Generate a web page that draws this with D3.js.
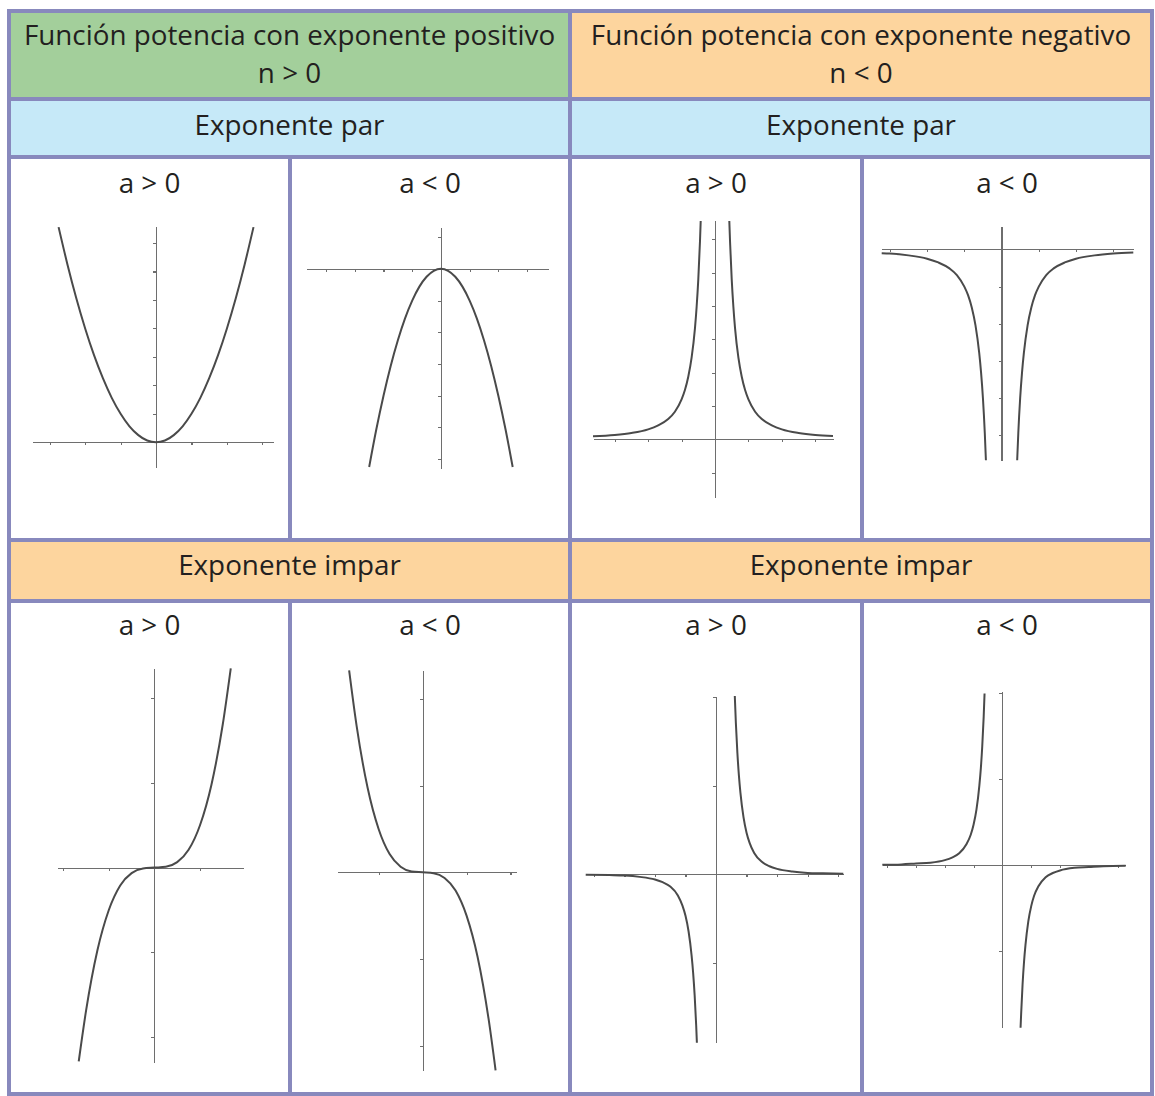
<!DOCTYPE html>
<html lang="es">
<head>
<meta charset="UTF-8" />
<title>Función potencia</title>
<script src="https://d3js.org/d3.v7.min.js"></script>
<style>
  body { margin: 0; background: #fff; }
  svg { display: block; }
  .lbl { font-family: "Open Sans", Lato, sans-serif; fill: #231f20; text-anchor: middle; }
  .ax path, .ax line { stroke: #6e6e6e; stroke-width: 1.1; shape-rendering: crispEdges; }
  .curve { fill: none; stroke: #4a4a4a; stroke-width: 2; }
</style>
</head>
<body>
<svg width="1155" height="1096"></svg>
<script>
// headings
const titles = ["Función potencia con exponente positivo", "Función potencia con exponente negativo"];
const titleConds = ["n > 0", "n < 0"];
const rowNames = ["Exponente par", "Exponente impar"];
const signLabels = ["a > 0", "a < 0"];

// axis domains (units) and tick values per panel
const xDomains = [[-3.5, 3.3], [-4.7, 3.73], [-3.65, 3.53], [-3.22, 3.54],
                  [-2.13, 1.95], [-1.93, 2.14], [-4.27, 4.17], [-4.17, 4.28]];
const yDomains = [[-0.87, 7.6], [-6.28, 1.32], [-1.75, 6.56], [-5.68, 0.63],
                  [-4.6, 4.7], [-4.58, 4.67], [-3.81, 4.03], [-3.78, 4.04]];
const xTicks = [[-3, -2, -1, 1, 2, 3], [-4, -3, -2, -1, 1, 2, 3], [-3, -2, -1, 1, 2, 3], [-3, -2, -1, 1, 2, 3],
                [-2, -1, 1], [-1, 1, 2], [-4, -3, -2, -1, 1, 2, 3, 4], [-4, -3, -2, -1, 1, 2, 3, 4]];
const yTicks = [[1, 2, 3, 4, 5, 6, 7], [1, -1, -2, -3, -4, -5, -6], [-1, 1, 2, 3, 4, 5, 6], [-1, -2, -3, -4, -5],
                [-4, -2, 2, 4], [-4, -2, 2, 4], [-2, 2, 4], [-2, 2, 4]];

// curves
const p1X = [-2.75, -2.5, -2.25, -2, -1.75, -1.5, -1.25, -1, -0.75, -0.5, -0.25, 0, 0.25, 0.5, 0.75, 1, 1.25, 1.5, 1.75, 2, 2.25, 2.5, 2.75];
const p1Y = [7.56, 6.25, 5.06, 4, 3.06, 2.25, 1.56, 1, 0.56, 0.25, 0.06, 0, 0.06, 0.25, 0.56, 1, 1.56, 2.25, 3.06, 4, 5.06, 6.25, 7.56];
const p2X = [-2.5, -2.25, -2, -1.75, -1.5, -1.25, -1, -0.75, -0.5, -0.25, 0, 0.25, 0.5, 0.75, 1, 1.25, 1.5, 1.75, 2, 2.25, 2.5];
const p2Y = [-6.25, -5.06, -4, -3.06, -2.25, -1.56, -1, -0.56, -0.25, -0.06, 0, -0.06, -0.25, -0.56, -1, -1.56, -2.25, -3.06, -4, -5.06, -6.25];
const p3LeftX = [-3.65, -3, -2.5, -2, -1.7, -1.4, -1.2, -1, -0.9, -0.8, -0.7, -0.6, -0.55, -0.5, -0.45, -0.428];
const p3LeftY = [0.09, 0.13, 0.19, 0.3, 0.42, 0.61, 0.83, 1.2, 1.48, 1.88, 2.45, 3.33, 3.97, 4.8, 5.93, 6.55];
const p3RightX = [0.428, 0.45, 0.5, 0.55, 0.6, 0.7, 0.8, 0.9, 1, 1.2, 1.4, 1.7, 2, 2.5, 3, 3.53];
const p3RightY = [6.55, 5.93, 4.8, 3.97, 3.33, 2.45, 1.88, 1.48, 1.2, 0.83, 0.61, 0.42, 0.3, 0.19, 0.13, 0.1];
const p4LeftX = [-3.22, -3, -2.5, -2, -1.7, -1.4, -1.2, -1, -0.9, -0.8, -0.7, -0.6, -0.55, -0.5, -0.45, -0.42];
const p4LeftY = [-0.1, -0.11, -0.16, -0.25, -0.35, -0.51, -0.69, -1, -1.23, -1.56, -2.04, -2.78, -3.31, -4, -4.94, -5.67];
const p4RightX = [0.42, 0.45, 0.5, 0.55, 0.6, 0.7, 0.8, 0.9, 1, 1.2, 1.4, 1.7, 2, 2.5, 3, 3.54];
const p4RightY = [-5.67, -4.94, -4, -3.31, -2.78, -2.04, -1.56, -1.23, -1, -0.69, -0.51, -0.35, -0.25, -0.16, -0.11, -0.08];
const p5X = [-1.66, -1.5, -1.25, -1, -0.75, -0.5, -0.25, 0, 0.25, 0.5, 0.75, 1, 1.25, 1.5, 1.675];
const p5Y = [-4.57, -3.38, -1.95, -1, -0.42, -0.13, -0.02, 0, 0.02, 0.13, 0.42, 1, 1.95, 3.38, 4.7];
const p6X = [-1.67, -1.5, -1.25, -1, -0.75, -0.5, -0.25, 0, 0.25, 0.5, 0.75, 1, 1.25, 1.5, 1.66];
const p6Y = [4.66, 3.38, 1.95, 1, 0.42, 0.13, 0.02, 0, -0.02, -0.13, -0.42, -1, -1.95, -3.38, -4.57];
const p7LeftX = [-4.27, -3.5, -3, -2.5, -2, -1.75, -1.5, -1.25, -1.1, -1, -0.9, -0.8, -0.75, -0.7, -0.65, -0.627];
const p7LeftY = [-0.01, -0.02, -0.03, -0.06, -0.12, -0.18, -0.28, -0.48, -0.71, -0.94, -1.29, -1.84, -2.23, -2.74, -3.42, -3.81];
const p7RightX = [0.615, 0.65, 0.7, 0.75, 0.8, 0.9, 1, 1.1, 1.25, 1.5, 1.75, 2, 2.5, 3, 3.5, 4.17];
const p7RightY = [4.03, 3.42, 2.74, 2.23, 1.84, 1.29, 0.94, 0.71, 0.48, 0.28, 0.18, 0.12, 0.06, 0.03, 0.02, 0.01];
const p8LeftX = [-4.17, -3.5, -3, -2.5, -2, -1.75, -1.5, -1.25, -1.1, -1, -0.9, -0.8, -0.75, -0.7, -0.65, -0.62];
const p8LeftY = [0.01, 0.02, 0.04, 0.06, 0.12, 0.18, 0.28, 0.49, 0.71, 0.95, 1.3, 1.86, 2.25, 2.77, 3.46, 4.0];
const p8RightX = [0.63, 0.65, 0.7, 0.75, 0.8, 0.9, 1, 1.1, 1.25, 1.5, 1.75, 2, 2.5, 3, 3.5, 4.28];
const p8RightY = [-3.78, -3.46, -2.77, -2.25, -1.86, -1.3, -0.95, -0.71, -0.49, -0.28, -0.18, -0.12, -0.06, -0.04, -0.02, -0.01];

const zip = (xs, ys) => xs.map((x, i) => [x, ys[i]]);
const curves = [
  [zip(p1X, p1Y)],
  [zip(p2X, p2Y)],
  [zip(p3LeftX, p3LeftY), zip(p3RightX, p3RightY)],
  [zip(p4LeftX, p4LeftY), zip(p4RightX, p4RightY)],
  [zip(p5X, p5Y)],
  [zip(p6X, p6Y)],
  [zip(p7LeftX, p7LeftY), zip(p7RightX, p7RightY)],
  [zip(p8LeftX, p8LeftY), zip(p8RightX, p8RightY)]
];

// pixel boxes of each small plot: [left, right, bottom, top]
const boxes = [
  [32, 273, 467, 226], [306, 548, 468, 227], [593, 833, 497.7, 220.7], [881.7, 1133.3, 460.7, 226],
  [57.3, 243.3, 1062.7, 668.3], [337.7, 516.7, 1070.7, 670], [585.7, 843.3, 1042.7, 696], [882.3, 1125.7, 1027.7, 691.7]
];

const svg = d3.select("svg");

// table layout
const vx = [9, 290, 570, 862, 1152];
const hy = [11, 99, 157, 540, 601, 1094];
const green = "#a3cf9b", orange = "#fdd59e", blue = "#c6e9f8", border = "#8889bd";

const fills = [
  [vx[0], hy[0], vx[2], hy[1], green],
  [vx[2], hy[0], vx[4], hy[1], orange],
  [vx[0], hy[1], vx[4], hy[2], blue],
  [vx[0], hy[3], vx[4], hy[4], orange]
];
svg.selectAll("rect.cell").data(fills).join("rect")
  .attr("class", "cell")
  .attr("x", d => d[0]).attr("y", d => d[1])
  .attr("width", d => d[2] - d[0]).attr("height", d => d[3] - d[1])
  .attr("fill", d => d[4]);

// grid lines
const gridLines = [];
hy.forEach(y => gridLines.push([vx[0] - 2, y, vx[4] + 2, y]));
[vx[0], vx[2], vx[4]].forEach(x => gridLines.push([x, hy[0], x, hy[5]]));
[vx[1], vx[3]].forEach(x => {
  gridLines.push([x, hy[2], x, hy[3]]);
  gridLines.push([x, hy[4], x, hy[5]]);
});
svg.selectAll("line.grid").data(gridLines).join("line")
  .attr("class", "grid")
  .attr("x1", d => d[0]).attr("y1", d => d[1])
  .attr("x2", d => d[2]).attr("y2", d => d[3])
  .attr("stroke", border).attr("stroke-width", 4);

// text
const fs = 27.8;
titles.forEach((t, i) => {
  const cx = (vx[i * 2] + vx[i * 2 + 2]) / 2;
  svg.append("text").attr("class", "lbl").attr("x", cx).attr("y", 45).attr("font-size", fs).text(t);
  svg.append("text").attr("class", "lbl").attr("x", cx).attr("y", 83).attr("font-size", fs).text(titleConds[i]);
  svg.append("text").attr("class", "lbl").attr("x", cx).attr("y", 135).attr("font-size", fs).text(rowNames[0]);
  svg.append("text").attr("class", "lbl").attr("x", cx).attr("y", 575).attr("font-size", fs).text(rowNames[1]);
});
[0, 1, 2, 3].forEach(c => {
  const cx = (vx[c] + vx[c + 1]) / 2;
  [193, 635].forEach(y => {
    svg.append("text").attr("class", "lbl").attr("x", cx).attr("y", y).attr("font-size", fs)
      .text(signLabels[c % 2]);
  });
});

// small plots
boxes.forEach((b, i) => {
  const x = d3.scaleLinear().domain(xDomains[i]).range([b[0], b[1]]);
  const y = d3.scaleLinear().domain(yDomains[i]).range([b[2], b[3]]);
  const g = svg.append("g");

  g.append("g").attr("class", "ax")
    .attr("transform", `translate(0,${y(0)})`)
    .call(d3.axisBottom(x).tickValues(xTicks[i]).tickSize(3).tickSizeOuter(0).tickFormat(""));
  g.append("g").attr("class", "ax")
    .attr("transform", `translate(${x(0)},0)`)
    .call(d3.axisLeft(y).tickValues(yTicks[i]).tickSize(3).tickSizeOuter(0).tickFormat(""));

  const line = d3.line().x(d => x(d[0])).y(d => y(d[1])).curve(d3.curveMonotoneX);
  g.selectAll("path.curve").data(curves[i]).join("path")
    .attr("class", "curve")
    .attr("d", line);
});
</script>
</body>
</html>
